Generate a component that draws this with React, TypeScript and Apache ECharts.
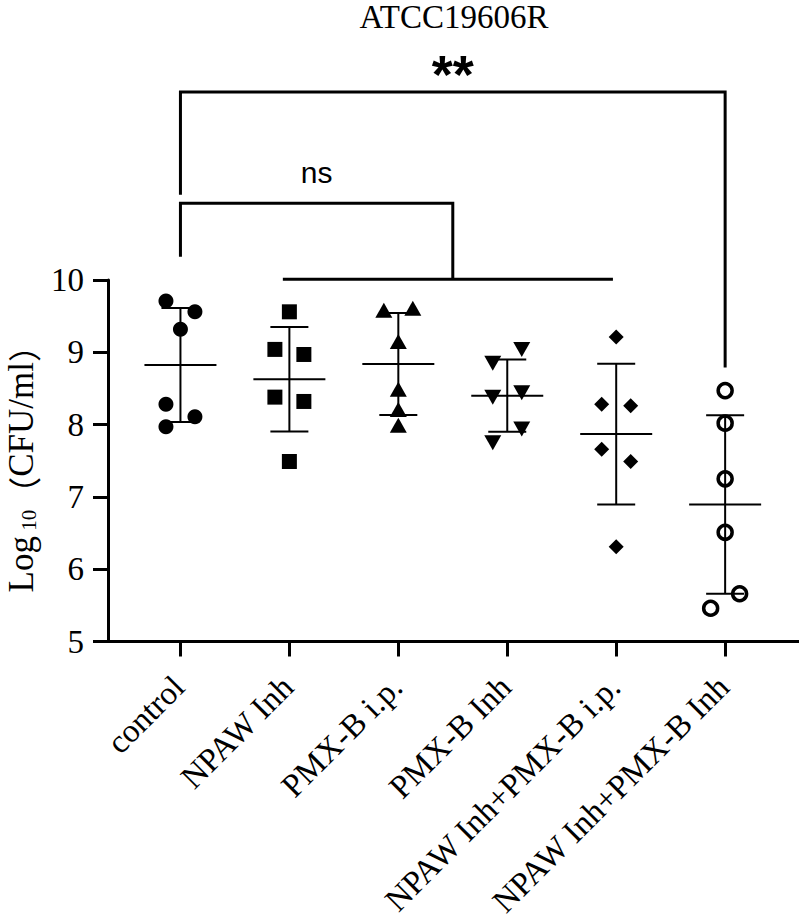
import React, { useEffect, useRef } from "react";
import * as echarts from "echarts";

// Treatment groups along the x axis
const groups = [
  "control",
  "NPAW Inh",
  "PMX-B i.p.",
  "PMX-B Inh",
  "NPAW Inh+PMX-B i.p.",
  "NPAW Inh+PMX-B Inh",
];

// log10 CFU/ml per animal, one array per group
const control = [9.71, 9.56, 9.32, 8.28, 8.11, 7.97];
const npawInh = [9.56, 9.04, 8.97, 8.38, 8.32, 7.49];
const pmxIp = [9.58, 9.61, 9.15, 8.49, 8.21, 7.99];
const pmxInh = [9.04, 8.85, 8.44, 8.38, 7.94, 7.75];
const comboIp = [9.21, 8.28, 8.26, 7.66, 7.49, 6.31];
const comboInh = [8.47, 8.02, 7.25, 6.51, 5.66, 5.46];

// Lane of each point inside its column: -1 left, 0 centre, 1 right
const controlLane = [-1, 1, 0, -1, 1, -1];
const npawInhLane = [0, -1, 1, -1, 1, 0];
const pmxIpLane = [-1, 1, 0, 0, 0, 0];
const pmxInhLane = [1, -1, 1, -1, 1, -1];
const comboIpLane = [0, -1, 1, -1, 1, 0];
const comboInhLane = [0, 0, 0, 0, 1, -1];

const yTicks = [5, 6, 7, 8, 9, 10];

// Significance brackets, in axis units (x = group index, y = log10 CFU/ml)
const starBracket = [[0, 11.18], [0, 12.6], [5, 12.6], [5, 8.79]];
const nsBracket = [[0, 10.32], [0, 11.06], [2.5, 11.06], [2.5, 10.02]];
const nsSpan = [[0.94, 10.01], [3.97, 10.01]];
const sigText = ["**", "ns"];
const sigAt = [[2.5, 12.85], [1.25, 11.48]];

const SERIF = "'Liberation Serif', 'Times New Roman', serif";
const SANS = "'Liberation Sans', Arial, sans-serif";
const CJK = "'Noto Sans CJK SC', sans-serif";
const SPREAD = 0.133;

const mean = (a: number[]) => a.reduce((s, v) => s + v, 0) / a.length;
const sd = (a: number[]) => {
  const m = mean(a);
  return Math.sqrt(a.reduce((s, v) => s + (v - m) * (v - m), 0) / (a.length - 1));
};

export default function App() {
  const ref = useRef<HTMLDivElement>(null);

  useEffect(() => {
    if (!ref.current) return;
    const chart = echarts.init(ref.current, undefined, { renderer: "svg" });

    const values = [control, npawInh, pmxIp, pmxInh, comboIp, comboInh];
    const lanes = [controlLane, npawInhLane, pmxIpLane, pmxInhLane, comboIpLane, comboInhLane];
    const marks = [
      { symbol: "circle", size: 15, rotate: 0, open: false },
      { symbol: "rect", size: 15, rotate: 0, open: false },
      { symbol: "triangle", size: [17, 15], rotate: 0, open: false },
      { symbol: "triangle", size: [17, 15], rotate: 180, open: false },
      { symbol: "diamond", size: 15, rotate: 0, open: false },
      { symbol: "circle", size: 14, rotate: 0, open: true },
    ];

    const pointSeries = values.map((vals, g) => ({
      type: "scatter",
      name: groups[g],
      symbol: marks[g].symbol,
      symbolSize: marks[g].size,
      symbolRotate: marks[g].rotate,
      itemStyle: marks[g].open
        ? { color: "rgba(0,0,0,0)", borderColor: "#000", borderWidth: 3.5, opacity: 1 }
        : { color: "#000", opacity: 1 },
      data: vals.map((v, i) => [g + lanes[g][i] * SPREAD, v]),
      z: 3,
    }));

    const statData = values.map((vals, g) => [g, mean(vals), sd(vals)]);

    const errorSeries = {
      type: "custom",
      data: statData,
      z: 4,
      renderItem: (_p: any, api: any) => {
        const x = api.value(0);
        const m = api.value(1);
        const s = api.value(2);
        const c = api.coord([x, m]);
        const t = api.coord([x, m + s]);
        const b = api.coord([x, m - s]);
        const style = { stroke: "#000", lineWidth: 2 };
        return {
          type: "group",
          children: [
            { type: "line", shape: { x1: c[0] - 36, y1: c[1], x2: c[0] + 36, y2: c[1] }, style },
            { type: "line", shape: { x1: t[0], y1: t[1], x2: b[0], y2: b[1] }, style },
            { type: "line", shape: { x1: t[0] - 19, y1: t[1], x2: t[0] + 19, y2: t[1] }, style },
            { type: "line", shape: { x1: b[0] - 19, y1: b[1], x2: b[0] + 19, y2: b[1] }, style },
          ],
        };
      },
    };

    const bracketLine = (data: number[][]) => ({
      type: "line",
      data,
      clip: false,
      symbol: "none",
      silent: true,
      lineStyle: { color: "#000", width: 3, join: "miter", cap: "butt", opacity: 1 },
      z: 2,
    });

    const sigLabel = (i: number, label: any) => ({
      type: "scatter",
      clip: false,
      silent: true,
      symbolSize: 1,
      itemStyle: { color: "rgba(0,0,0,0)", opacity: 1 },
      data: [{ value: sigAt[i], name: sigText[i] }],
      label: {
        show: true,
        position: "inside",
        formatter: (p: any) => p.name,
        color: "#000",
        opacity: 1,
        textBorderWidth: 0,
        ...label,
      },
      z: 5,
    });

    chart.setOption({
      animation: false,
      backgroundColor: "#fff",
      grid: {
        left: 108,
        right: 0,
        top: 280,
        bottom: 282.5,
        containLabel: false,
        outerBoundsMode: "none",
      },
      graphic: [
        {
          type: "text",
          x: 454,
          y: 0,
          style: {
            text: "ATCC19606R",
            font: `33px ${SERIF}`,
            fill: "#000",
            textAlign: "center",
            textVerticalAlign: "top",
          },
        },
      ],
      xAxis: {
        type: "value",
        min: -0.665,
        max: 5.678,
        axisLine: { show: true, onZero: false, lineStyle: { color: "#000", width: 3 } },
        axisTick: {
          show: true,
          customValues: groups.map((_, i) => i),
          length: 15,
          lineStyle: { color: "#000", width: 3 },
        },
        axisLabel: {
          show: true,
          customValues: groups.map((_, i) => i),
          formatter: (v: number) => groups[Math.round(v)],
          rotate: 45,
          margin: 15,
          verticalAlign: "top",
          padding: [0, 19, 0, 0],
          fontFamily: SERIF,
          fontSize: 33,
          color: "#000",
        },
        splitLine: { show: false },
      },
      yAxis: {
        type: "value",
        min: yTicks[0],
        max: yTicks[yTicks.length - 1],
        interval: 1,
        axisLine: { show: true, onZero: false, lineStyle: { color: "#000", width: 3 } },
        axisTick: { show: true, length: 15, lineStyle: { color: "#000", width: 3 } },
        axisLabel: { margin: 24, fontFamily: SERIF, fontSize: 33, color: "#000" },
        splitLine: { show: false },
        name: "{a|Log}{b| 10}{p|（}{a|CFU/ml}{p|）}",
        nameLocation: "middle",
        nameRotate: 90,
        nameGap: 69,
        nameTextStyle: {
          color: "#000",
          fontFamily: SERIF,
          fontSize: 35,
          lineHeight: 36,
          rich: {
            a: { fontFamily: SERIF, fontSize: 35, lineHeight: 36, color: "#000", verticalAlign: "bottom" },
            b: { fontFamily: SERIF, fontSize: 21, lineHeight: 21, color: "#000", verticalAlign: "bottom" },
            p: { fontFamily: CJK, fontSize: 33, lineHeight: 34, color: "#000", verticalAlign: "bottom" },
          },
        },
      },
      series: [
        bracketLine(starBracket),
        bracketLine(nsBracket),
        bracketLine(nsSpan),
        ...pointSeries,
        errorSeries,
        sigLabel(0, { fontFamily: SANS, fontSize: 54, fontWeight: "bold" }),
        sigLabel(1, { fontFamily: SANS, fontSize: 30 }),
      ],
    });

    return () => chart.dispose();
  }, []);

  return (
    <div
      ref={ref}
      style={{ position: "absolute", left: 0, top: 0, width: 799, height: 924, background: "#fff" }}
    />
  );
}
